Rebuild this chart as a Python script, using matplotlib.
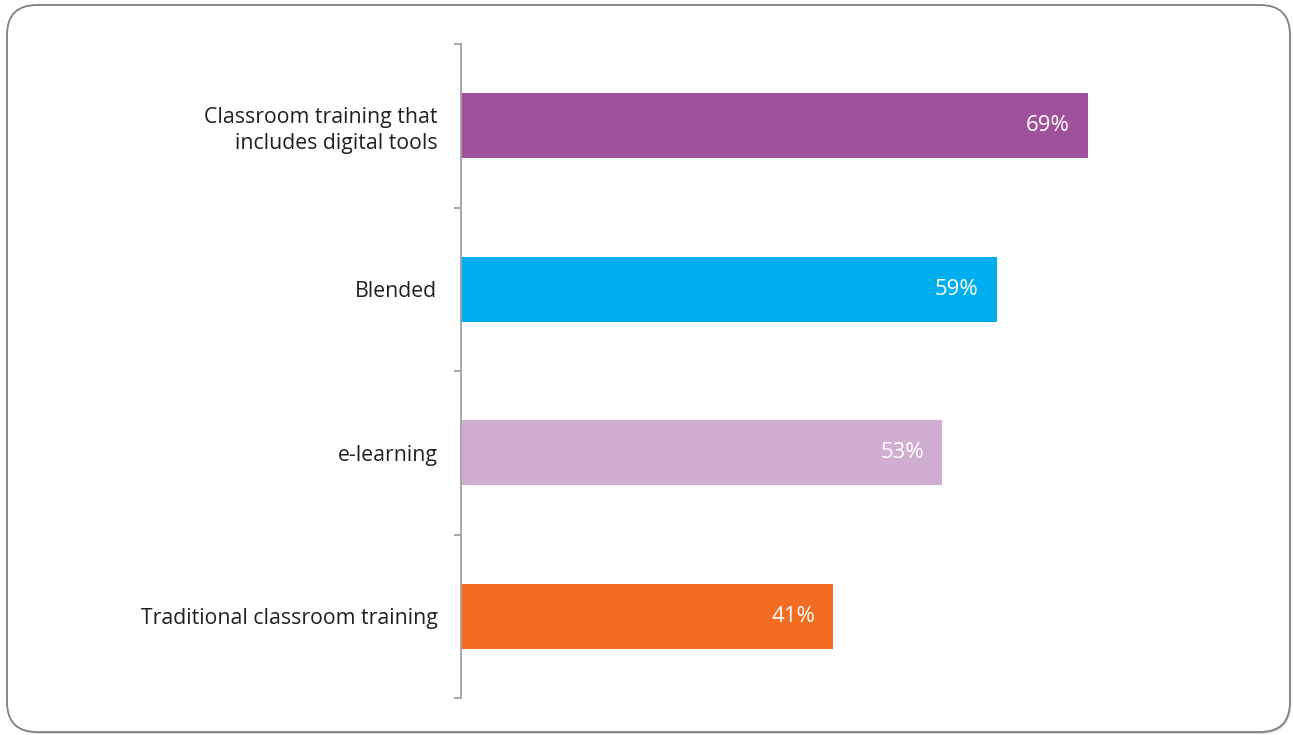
import numpy as np
import matplotlib.pyplot as plt
from matplotlib.patches import FancyBboxPatch
from matplotlib.transforms import IdentityTransform

plt.rcParams['font.family'] = ['Open Sans', 'DejaVu Sans']

# survey results (top to bottom)
labels = ['Classroom training that\nincludes digital tools', 'Blended',
          'e-learning', 'Traditional classroom training']
values = [69, 59, 53, 41]
colors = ['#A0519C', '#00AEEF', '#D1AED1', '#F26D22']

fig = plt.figure(figsize=(12.93, 7.35), dpi=100)

# rounded frame with a faint shadow, kept behind the axes
shadow = FancyBboxPatch((10, 1), 1281, 727, boxstyle='round,pad=0,rounding_size=30',
                        transform=IdentityTransform(), facecolor='#d8d8d8',
                        edgecolor='none', zorder=-2)
frame = FancyBboxPatch((7, 3), 1283, 727, boxstyle='round,pad=0,rounding_size=30',
                       transform=IdentityTransform(), facecolor='white',
                       edgecolor='#808080', linewidth=1.3, zorder=-1)
fig.patches.extend([shadow, frame])

ax = fig.add_axes([461 / 1293, 37 / 735, 0.9745 - 461 / 1293, 654 / 735])
ax.patch.set_alpha(0)
y_pos = np.arange(len(labels))
ax.barh(y_pos, values, height=0.40, color=colors)

for y, v in zip(y_pos, values):
    ax.text(v - 2.0, y, f'{v}%', color='white', ha='right', va='center', fontsize=16)

ax.set_xlim(0, 88)
ax.set_ylim(len(labels) - 0.5, -0.5)
ax.set_yticks(y_pos)
ax.set_yticklabels(labels, fontsize=15.3, color='#231f20', ha='right', linespacing=1.3)
ax.set_yticks(np.arange(-0.5, len(labels)), minor=True)
ax.tick_params(axis='y', which='major', length=0, pad=17)
ax.tick_params(axis='y', which='minor', length=5, width=1.3, color='#a0a0a0')
ax.set_xticks([])
for side in ['top', 'right', 'bottom']:
    ax.spines[side].set_visible(False)
ax.spines['left'].set_color('#a0a0a0')
ax.spines['left'].set_linewidth(1.3)

plt.savefig('out.png', dpi=100)
